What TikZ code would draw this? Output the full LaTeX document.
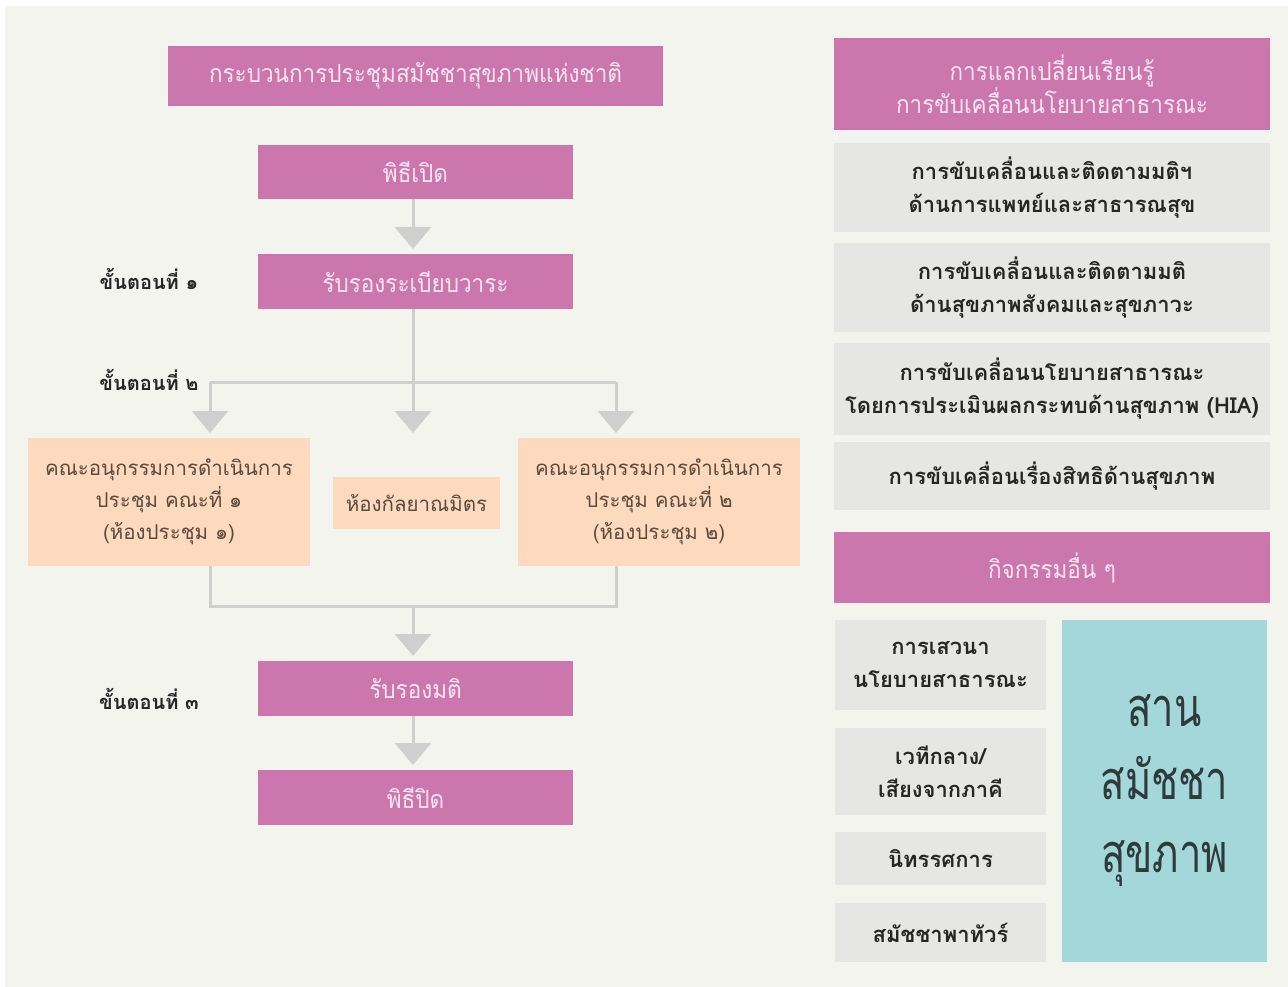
\documentclass[tikz,border=0pt]{standalone}
\usepackage{fontspec}
\newfontfamily\thai[Script=Thai]{Loma}
\newfontfamily\thain[Script=Thai,FakeStretch=0.9]{Loma}
\newfontfamily\thait[Script=Thai,FakeStretch=0.74]{Loma}
\usetikzlibrary{arrows.meta}
\definecolor{bgc}{HTML}{F4F4EF}
\definecolor{pinkc}{HTML}{CC76AE}
\definecolor{pinktext}{HTML}{FBE6F3}
\definecolor{peachc}{HTML}{FDDABE}
\definecolor{peachtext}{HTML}{5A4A40}
\definecolor{grayc}{HTML}{E6E6E4}
\definecolor{graytext}{HTML}{262626}
\definecolor{tealc}{HTML}{A4D7D9}
\definecolor{tealtext}{HTML}{2E3A3C}
\definecolor{arrowc}{HTML}{CFCFCD}
\tikzset{
  box/.style={inner sep=0pt, anchor=center, align=center},
  pinkbox/.style={box, fill=pinkc, text=pinktext, font=\thain\fontsize{25}{31}\selectfont},
  peachbox/.style={box, fill=peachc, text=peachtext, font=\thai\fontsize{20.5}{32}\selectfont},
  graybox/.style={box, fill=grayc, text=graytext, font=\thai\bfseries\fontsize{22}{33}\selectfont},
  stepl/.style={anchor=center, text=graytext, font=\thai\bfseries\fontsize{20}{22}\selectfont},
  conn/.style={draw=arrowc, line width=3pt},
  arr/.style={conn, -{Triangle[width=36pt,length=22pt]}, shorten >=5pt},
}
\begin{document}
\begin{tikzpicture}[x=1pt,y=-1pt]
\useasboundingbox (0,0) rectangle (1288,987);
\fill[white] (0,0) rectangle (1288,987);
\fill[bgc] (5,6) rectangle (1288,987);

% left flow
\node[pinkbox, minimum width=495pt, minimum height=60pt] (title) at (415.5,76) {กระบวนการประชุมสมัชชาสุขภาพแห่งชาติ};
\node[pinkbox, minimum width=315pt, minimum height=54pt] (open) at (415.5,172) {พิธีเปิด};
\node[pinkbox, minimum width=315pt, minimum height=55pt] (agenda) at (415.5,281.5) {รับรองระเบียบวาระ};
\node[peachbox, minimum width=282pt, minimum height=128pt] (c1) at (169,502) {คณะอนุกรรมการดำเนินการ\\ประชุม คณะที่ ๑\\(ห้องประชุม ๑)};
\node[peachbox, minimum width=167pt, minimum height=52pt] (kalya) at (416.5,503) {ห้องกัลยาณมิตร};
\node[peachbox, minimum width=282pt, minimum height=128pt] (c2) at (659,502) {คณะอนุกรรมการดำเนินการ\\ประชุม คณะที่ ๒\\(ห้องประชุม ๒)};
\node[pinkbox, minimum width=315pt, minimum height=55pt] (resol) at (415.5,688.5) {รับรองมติ};
\node[pinkbox, minimum width=315pt, minimum height=55pt] (close) at (415.5,797.5) {พิธีปิด};

\node[stepl] (s1) at (149,279) {ขั้นตอนที่ ๑};
\node[stepl] (s2) at (149,380) {ขั้นตอนที่ ๒};
\node[stepl] (s3) at (149,699) {ขั้นตอนที่ ๓};

\coordinate (bl) at (210,382);
\coordinate (br) at (616,382);
\coordinate (c1t) at (210,438);
\coordinate (c2t) at (616,438);
\coordinate (c1b) at (210,566);
\coordinate (c2b) at (616,566);
\coordinate (jl) at (210,606);
\coordinate (jm) at (413,606);
\coordinate (jr) at (616,606);
\coordinate (at) at (413,309);
\coordinate (ab) at (413,438);
\coordinate (ot) at (413,199);
\coordinate (ob) at (413,254);
\coordinate (rt) at (413,661);
\coordinate (rb) at (413,716);
\coordinate (ct) at (413,770);

\draw[arr] (ot) -- (ob);
\draw[conn] (bl) -- (br);
\draw[arr] (at) -- (ab);
\draw[arr] (bl) -- (c1t);
\draw[arr] (br) -- (c2t);
\draw[conn] (c1b) -- (jl) -- (jr) -- (c2b);
\draw[arr] (jm) -- (rt);
\draw[arr] (rb) -- (ct);

% right column
\node[pinkbox, minimum width=436pt, minimum height=92pt, font=\thain\fontsize{25}{32}\selectfont] (hdr1) at (1052,84) {การแลกเปลี่ยนเรียนรู้\\การขับเคลื่อนนโยบายสาธารณะ};
\node[graybox, minimum width=436pt, minimum height=89pt] (g1) at (1052,188) {การขับเคลื่อนและติดตามมติฯ\\ด้านการแพทย์และสาธารณสุข};
\node[graybox, minimum width=436pt, minimum height=89pt] (g2) at (1052,287.5) {การขับเคลื่อนและติดตามมติ\\ด้านสุขภาพสังคมและสุขภาวะ};
\node[graybox, minimum width=436pt, minimum height=92pt] (g3) at (1052,389) {การขับเคลื่อนนโยบายสาธารณะ\\โดยการประเมินผลกระทบด้านสุขภาพ (HIA)};
\node[graybox, minimum width=436pt, minimum height=68pt] (g4) at (1052,476) {การขับเคลื่อนเรื่องสิทธิด้านสุขภาพ};

\node[pinkbox, minimum width=436pt, minimum height=71pt] (hdr2) at (1052,567.5) {กิจกรรมอื่น ๆ};
\node[graybox, minimum width=211pt, minimum height=90pt] (a1) at (940.5,665) {การเสวนา\\นโยบายสาธารณะ};
\node[graybox, minimum width=211pt, minimum height=87pt] (a2) at (940.5,771.5) {เวทีกลาง/\\เสียงจากภาคี};
\node[graybox, minimum width=211pt, minimum height=53pt] (a3) at (940.5,858.5) {นิทรรศการ};
\node[graybox, minimum width=211pt, minimum height=59pt] (a4) at (940.5,932.5) {สมัชชาพาทัวร์};
\node[box, fill=tealc, text=tealtext, minimum width=205pt, minimum height=342pt, font=\thait\fontsize{54}{73}\selectfont] (san) at (1164.5,791) {สาน\\สมัชชา\\สุขภาพ};
\end{tikzpicture}
\end{document}
